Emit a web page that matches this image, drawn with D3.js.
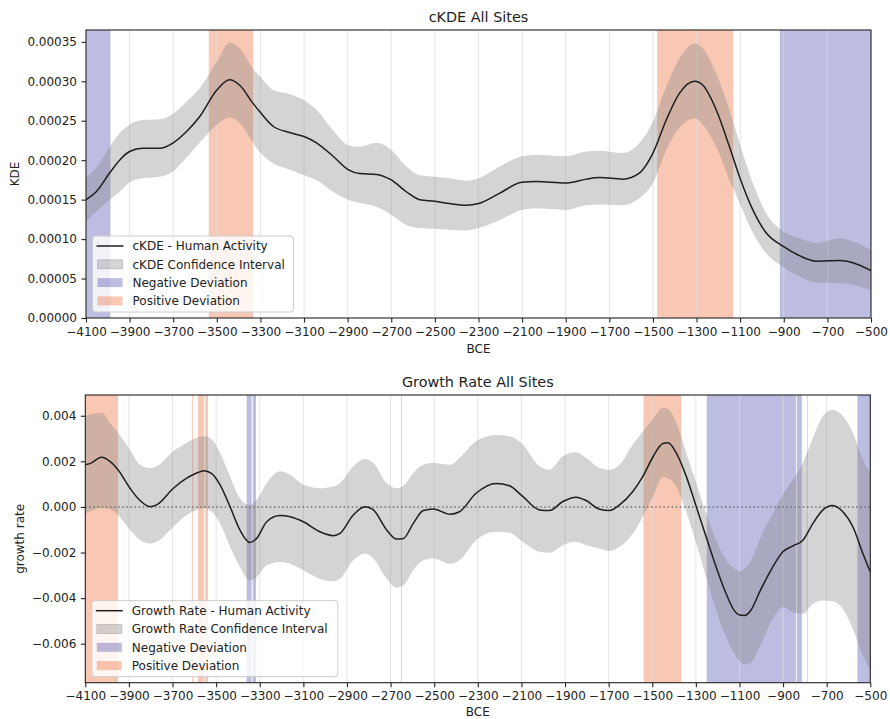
<!DOCTYPE html>
<html><head><meta charset="utf-8">
<script src="https://cdn.jsdelivr.net/npm/d3@7"></script>
<style>
body{margin:0;background:#fff}
svg{display:block}
text{font-family:"DejaVu Sans",sans-serif;fill:#222}
</style>
</head><body>
<svg id="chart" width="890" height="719"></svg>
<script>
// ---------- DATA ----------
const xTicks = [-4100,-3900,-3700,-3500,-3300,-3100,-2900,-2700,-2500,-2300,-2100,-1900,-1700,-1500,-1300,-1100,-900,-700,-500];

// cKDE panel
const kdeYears = [-4100,-4053,-3991,-3946,-3900,-3840,-3762,-3700,-3640,-3579,-3500,-3441,-3395,-3334,-3299,-3242,-3166,-3100,-3043,-2967,-2898,-2845,-2768,-2700,-2631,-2570,-2500,-2432,-2357,-2300,-2204,-2101,-2035,-1901,-1806,-1745,-1638,-1561,-1500,-1439,-1378,-1309,-1271,-1210,-1149,-1103,-1042,-981,-904,-828,-752,-644,-583,-500];
const kdeMean  = [15.0e-5,16.0e-5,18.4e-5,20.0e-5,21.1e-5,21.5e-5,21.5e-5,22.2e-5,23.6e-5,25.5e-5,28.9e-5,30.2e-5,29.5e-5,27.2e-5,26.0e-5,24.3e-5,23.5e-5,23.0e-5,22.2e-5,20.5e-5,18.8e-5,18.3e-5,18.2e-5,17.5e-5,16.0e-5,15.0e-5,14.8e-5,14.5e-5,14.3e-5,14.5e-5,15.8e-5,17.2e-5,17.3e-5,17.1e-5,17.6e-5,17.8e-5,17.6e-5,18.4e-5,20.9e-5,25.1e-5,28.5e-5,30.0e-5,29.5e-5,26.4e-5,21.7e-5,17.9e-5,13.7e-5,10.8e-5,9.1e-5,7.9e-5,7.2e-5,7.3e-5,7.0e-5,6.0e-5];
const kdeLower = [12.2e-5,13.5e-5,15.0e-5,16.0e-5,17.2e-5,17.7e-5,17.9e-5,18.6e-5,20.3e-5,22.2e-5,24.5e-5,25.4e-5,24.7e-5,22.2e-5,20.9e-5,19.6e-5,18.8e-5,18.1e-5,17.5e-5,16.0e-5,15.0e-5,14.6e-5,14.1e-5,13.1e-5,11.8e-5,11.4e-5,11.3e-5,11.2e-5,11.1e-5,11.4e-5,12.4e-5,13.7e-5,13.9e-5,13.7e-5,14.3e-5,14.4e-5,14.3e-5,15.2e-5,17.1e-5,21.3e-5,24.1e-5,25.3e-5,24.5e-5,21.7e-5,17.5e-5,14.6e-5,10.8e-5,8.2e-5,6.5e-5,5.3e-5,4.5e-5,4.4e-5,4.2e-5,3.5e-5];
const kdeUpper = [17.8e-5,19.0e-5,21.7e-5,23.4e-5,24.5e-5,25.1e-5,25.2e-5,25.9e-5,27.4e-5,29.1e-5,32.5e-5,34.9e-5,34.2e-5,31.6e-5,30.5e-5,28.9e-5,28.4e-5,27.6e-5,26.4e-5,23.8e-5,21.9e-5,21.7e-5,22.2e-5,21.3e-5,19.2e-5,18.1e-5,17.9e-5,17.7e-5,17.4e-5,17.7e-5,19.2e-5,20.5e-5,20.7e-5,20.5e-5,21.1e-5,21.2e-5,20.9e-5,22.2e-5,24.9e-5,29.3e-5,32.9e-5,34.8e-5,34.2e-5,31.0e-5,26.4e-5,22.2e-5,17.1e-5,13.3e-5,11.0e-5,10.1e-5,9.5e-5,10.1e-5,9.7e-5,8.6e-5];
const kdeTicks = [0,0.00005,0.0001,0.00015,0.0002,0.00025,0.0003,0.00035];
const kdeNegBands = [[-4100,-3988],[-918,-500]];
const kdePosBands = [[-3537,-3334],[-1481,-1132]];

// Growth rate panel
const grYears = [-4100,-4079,-4025,-3987,-3950,-3895,-3849,-3803,-3773,-3696,-3635,-3589,-3556,-3520,-3482,-3436,-3391,-3345,-3314,-3268,-3207,-3161,-3100,-3024,-2962,-2932,-2871,-2817,-2779,-2718,-2672,-2641,-2596,-2550,-2504,-2427,-2384,-2308,-2216,-2155,-2094,-2017,-1971,-1910,-1849,-1803,-1742,-1696,-1650,-1589,-1543,-1497,-1451,-1428,-1390,-1344,-1298,-1253,-1207,-1161,-1122,-1100,-1077,-1046,-1008,-947,-901,-855,-809,-763,-717,-675,-626,-580,-534,-500];
const grMean  = [1.85e-3,1.90e-3,2.18e-3,2.00e-3,1.63e-3,0.82e-3,0.28e-3,0.01e-3,0.09e-3,0.82e-3,1.26e-3,1.49e-3,1.59e-3,1.46e-3,0.97e-3,0.01e-3,-1.01e-3,-1.56e-3,-1.38e-3,-0.65e-3,-0.38e-3,-0.43e-3,-0.65e-3,-1.09e-3,-1.26e-3,-1.16e-3,-0.35e-3,0.01e-3,-0.13e-3,-1.01e-3,-1.41e-3,-1.38e-3,-0.72e-3,-0.16e-3,-0.09e-3,-0.32e-3,-0.21e-3,0.60e-3,1.03e-3,0.93e-3,0.46e-3,-0.13e-3,-0.16e-3,0.24e-3,0.43e-3,0.28e-3,-0.10e-3,-0.16e-3,0.09e-3,0.68e-3,1.34e-3,2.19e-3,2.78e-3,2.81e-3,2.37e-3,1.34e-3,0.01e-3,-1.31e-3,-2.63e-3,-3.81e-3,-4.57e-3,-4.74e-3,-4.76e-3,-4.51e-3,-3.74e-3,-2.63e-3,-1.97e-3,-1.71e-3,-1.46e-3,-0.72e-3,-0.13e-3,0.06e-3,-0.21e-3,-0.87e-3,-2.04e-3,-2.85e-3];
const grLower = [-0.28e-3,-0.20e-3,-0.05e-3,-0.10e-3,-0.35e-3,-1.01e-3,-1.45e-3,-1.60e-3,-1.53e-3,-0.87e-3,-0.35e-3,-0.13e-3,-0.06e-3,-0.21e-3,-0.72e-3,-1.75e-3,-2.63e-3,-3.22e-3,-3.07e-3,-2.56e-3,-2.41e-3,-2.49e-3,-2.78e-3,-3.15e-3,-3.26e-3,-3.15e-3,-2.34e-3,-2.04e-3,-2.26e-3,-3.15e-3,-3.54e-3,-3.44e-3,-2.78e-3,-2.34e-3,-2.26e-3,-2.49e-3,-2.34e-3,-1.46e-3,-1.09e-3,-1.13e-3,-1.53e-3,-1.97e-3,-2.01e-3,-1.68e-3,-1.53e-3,-1.68e-3,-1.82e-3,-1.93e-3,-1.75e-3,-1.16e-3,-0.43e-3,0.46e-3,1.31e-3,1.26e-3,0.90e-3,-0.21e-3,-1.60e-3,-3.07e-3,-4.54e-3,-5.72e-3,-6.46e-3,-6.75e-3,-6.90e-3,-6.82e-3,-6.16e-3,-4.91e-3,-4.40e-3,-4.62e-3,-4.69e-3,-4.25e-3,-4.10e-3,-4.13e-3,-4.47e-3,-5.35e-3,-6.53e-3,-7.12e-3];
const grUpper = [3.99e-3,4.05e-3,4.13e-3,3.69e-3,3.25e-3,2.51e-3,1.85e-3,1.71e-3,1.78e-3,2.44e-3,2.81e-3,3.03e-3,3.10e-3,2.96e-3,2.37e-3,1.34e-3,0.38e-3,0.09e-3,0.31e-3,1.04e-3,1.56e-3,1.41e-3,0.97e-3,0.82e-3,0.90e-3,1.04e-3,1.78e-3,2.10e-3,1.93e-3,1.04e-3,0.82e-3,0.93e-3,1.49e-3,1.85e-3,1.93e-3,1.85e-3,2.15e-3,2.88e-3,3.15e-3,3.10e-3,2.74e-3,1.78e-3,1.63e-3,2.22e-3,2.40e-3,2.15e-3,1.71e-3,1.63e-3,1.85e-3,2.74e-3,3.32e-3,3.84e-3,4.35e-3,4.31e-3,3.69e-3,2.37e-3,1.04e-3,-0.28e-3,-1.46e-3,-2.34e-3,-2.72e-3,-2.82e-3,-2.71e-3,-2.34e-3,-1.46e-3,-0.28e-3,0.53e-3,1.19e-3,1.93e-3,3.03e-3,3.99e-3,4.25e-3,3.99e-3,3.25e-3,2.07e-3,1.49e-3];
const grTicks = [-0.006,-0.004,-0.002,0,0.002,0.004];
const grNegBands = [[-3360,-3337],[-3332,-3317],[-2652,-2649],[-1250,-841],[-837,-814],[-791,-788],[-559,-500]];
const grPosBands = [[-4100,-3950],[-3610,-3605],[-3583,-3555],[-3550,-3537],[-1540,-1367]];

const panels = [
  {title:"cKDE All Sites", ylabel:"KDE", xlabel:"BCE",
   left:86, right:871, top:30, bottom:318, yDomain:[0,0.000365],
   years:kdeYears, mean:kdeMean, lower:kdeLower, upper:kdeUpper,
   yTicks:kdeTicks, yFmt:d3.format(".5f"), neg:kdeNegBands, pos:kdePosBands, zero:false,
   legend:["cKDE - Human Activity","cKDE Confidence Interval","Negative Deviation","Positive Deviation"],
   legendW:201, ylabelX:15, xlabelDy:35},
  {title:"Growth Rate All Sites", ylabel:"growth rate", xlabel:"BCE",
   left:85.3, right:870.3, top:395, bottom:682.7, yDomain:[-0.00771,0.00491],
   years:grYears, mean:grMean, lower:grLower, upper:grUpper,
   yTicks:grTicks, yFmt:d3.format(".3f"), neg:grNegBands, pos:grPosBands, zero:true,
   legend:["Growth Rate - Human Activity","Growth Rate Confidence Interval","Negative Deviation","Positive Deviation"],
   legendW:246, ylabelX:20, xlabelDy:33}
];

// ---------- DRAW ----------
const svg = d3.select("#chart");
const NEG = "#00008b", NEG_OP = 0.26;
const POS = "#ee7644", POS_OP = 0.4;
const CI = "#808080", CI_OP = 0.34;

panels.forEach((p, i) => {
  const x = d3.scaleLinear().domain([-4100,-500]).range([p.left, p.right]);
  const y = d3.scaleLinear().domain(p.yDomain).range([p.bottom, p.top]);
  const g = svg.append("g");
  const clipId = "clip" + i;
  g.append("clipPath").attr("id", clipId).append("rect")
    .attr("x", p.left).attr("y", p.top).attr("width", p.right - p.left).attr("height", p.bottom - p.top);
  const plot = g.append("g").attr("clip-path", `url(#${clipId})`);

  // deviation bands
  plot.selectAll("rect.neg").data(p.neg).join("rect").attr("class","neg")
    .attr("x", d => x(d[0])).attr("width", d => Math.max(0.6, x(d[1]) - x(d[0])))
    .attr("y", p.top).attr("height", p.bottom - p.top)
    .attr("fill", NEG).attr("fill-opacity", NEG_OP);
  plot.selectAll("rect.pos").data(p.pos).join("rect").attr("class","pos")
    .attr("x", d => x(d[0])).attr("width", d => Math.max(0.6, x(d[1]) - x(d[0])))
    .attr("y", p.top).attr("height", p.bottom - p.top)
    .attr("fill", POS).attr("fill-opacity", POS_OP);

  // vertical grid
  plot.selectAll("line.grid").data(xTicks).join("line").attr("class","grid")
    .attr("x1", d => x(d)).attr("x2", d => x(d))
    .attr("y1", p.top).attr("y2", p.bottom)
    .attr("stroke", "#dcdcdc").attr("stroke-opacity", 0.75).attr("stroke-width", 1);

  const pts = p.years.map((yr, k) => ({yr, m:p.mean[k], lo:p.lower[k], hi:p.upper[k]}));
  const curve = d3.curveMonotoneX;

  plot.append("path").datum(pts)
    .attr("d", d3.area().x(d => x(d.yr)).y0(d => y(d.lo)).y1(d => y(d.hi)).curve(curve))
    .attr("fill", CI).attr("fill-opacity", CI_OP);

  if (p.zero) {
    plot.append("line").attr("x1", p.left).attr("x2", p.right)
      .attr("y1", y(0)).attr("y2", y(0))
      .attr("stroke", "#707070").attr("stroke-width", 1.5).attr("stroke-dasharray", "1.5,2.6");
  }

  plot.append("path").datum(pts)
    .attr("d", d3.line().x(d => x(d.yr)).y(d => y(d.m)).curve(curve))
    .attr("fill", "none").attr("stroke", "#1e1e1e").attr("stroke-width", 1.5);

  // axes
  const xa = g.append("g").attr("transform", `translate(0,${p.bottom})`)
    .call(d3.axisBottom(x).tickValues(xTicks).tickFormat(d3.format("d")).tickSize(4.5).tickPadding(4.5).tickSizeOuter(0));
  const ya = g.append("g").attr("transform", `translate(${p.left},0)`)
    .call(d3.axisLeft(y).tickValues(p.yTicks).tickFormat(p.yFmt).tickSize(4.5).tickPadding(4.5).tickSizeOuter(0));
  [xa, ya].forEach(a => {
    a.select(".domain").remove();
    a.selectAll("line").attr("stroke", "#222").attr("stroke-width", 1.1);
    a.selectAll("text").attr("font-size", 12).attr("font-family", "DejaVu Sans").attr("fill", "#222");
  });

  // frame
  g.append("rect").attr("x", p.left).attr("y", p.top)
    .attr("width", p.right - p.left).attr("height", p.bottom - p.top)
    .attr("fill", "none").attr("stroke", "#222").attr("stroke-width", 1.1);

  // titles / labels
  const cx = (p.left + p.right) / 2;
  g.append("text").attr("x", cx).attr("y", p.top - 8).attr("text-anchor", "middle")
    .attr("font-size", 14.4).text(p.title);
  g.append("text").attr("x", cx).attr("y", p.bottom + p.xlabelDy).attr("text-anchor", "middle")
    .attr("font-size", 12).text(p.xlabel);
  g.append("text").attr("transform", `translate(${p.ylabelX},${(p.top + p.bottom) / 2}) rotate(-90)`)
    .attr("text-anchor", "middle").attr("dy", "0.35em").attr("font-size", 12).text(p.ylabel);

  // legend
  const lx = p.left + 6.5, lh = 76, ly = p.bottom - 6 - lh;
  const lg = g.append("g").attr("transform", `translate(${lx},${ly})`);
  lg.append("rect").attr("width", p.legendW).attr("height", lh).attr("rx", 3)
    .attr("fill", "#fff").attr("fill-opacity", 0.8).attr("stroke", "#cccccc").attr("stroke-width", 1);
  p.legend.forEach((lab, k) => {
    const ry = 10 + k * 18.3;
    if (k === 0) {
      lg.append("line").attr("x1", 4).attr("x2", 31).attr("y1", ry).attr("y2", ry)
        .attr("stroke", "#1e1e1e").attr("stroke-width", 1.5);
    } else {
      const col = k === 1 ? CI : (k === 2 ? NEG : POS);
      const op = k === 1 ? CI_OP : (k === 2 ? NEG_OP : POS_OP);
      lg.append("rect").attr("x", 5).attr("y", ry - 4.5).attr("width", 25).attr("height", 9)
        .attr("fill", col).attr("fill-opacity", op)
        .attr("stroke", k === 1 ? col : "none").attr("stroke-opacity", op);
    }
    lg.append("text").attr("x", 40).attr("y", ry).attr("dy", "0.36em")
      .attr("font-size", 12).text(lab);
  });
});
</script>
</body></html>
